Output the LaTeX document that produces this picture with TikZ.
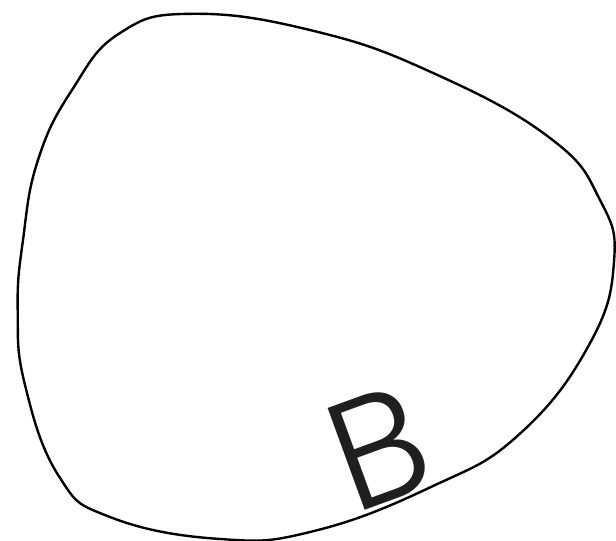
\documentclass[tikz,border=0pt]{standalone}
\usepackage{fontspec}
\newfontfamily\bfont{Poppins}[UprightFont=* Light]
\tikzset{blob/.style={draw=black, line width=2.4pt, smooth cycle, tension=0.75},
         letter/.style={font=\bfont\fontsize{155}{155}\selectfont, text=black!88, inner sep=0pt, rotate=20}}
\begin{document}
\begin{tikzpicture}[x=1pt,y=-1pt]
\useasboundingbox (0,0) rectangle (616,541);
\draw[blob] plot coordinates {(192.5,13.8) (120,33) (72,90) (38,160) (23,240) (17.7,310) (25,385) (58.9,476.2) (110,517) (220,539) (314,531) (432,486.5) (518.7,434.8) (589,345) (614,262) (600,200) (550,138) (432,72.5) (314,31)};
\node[letter] (b) at (378,448) {B};
\end{tikzpicture}
\end{document}
